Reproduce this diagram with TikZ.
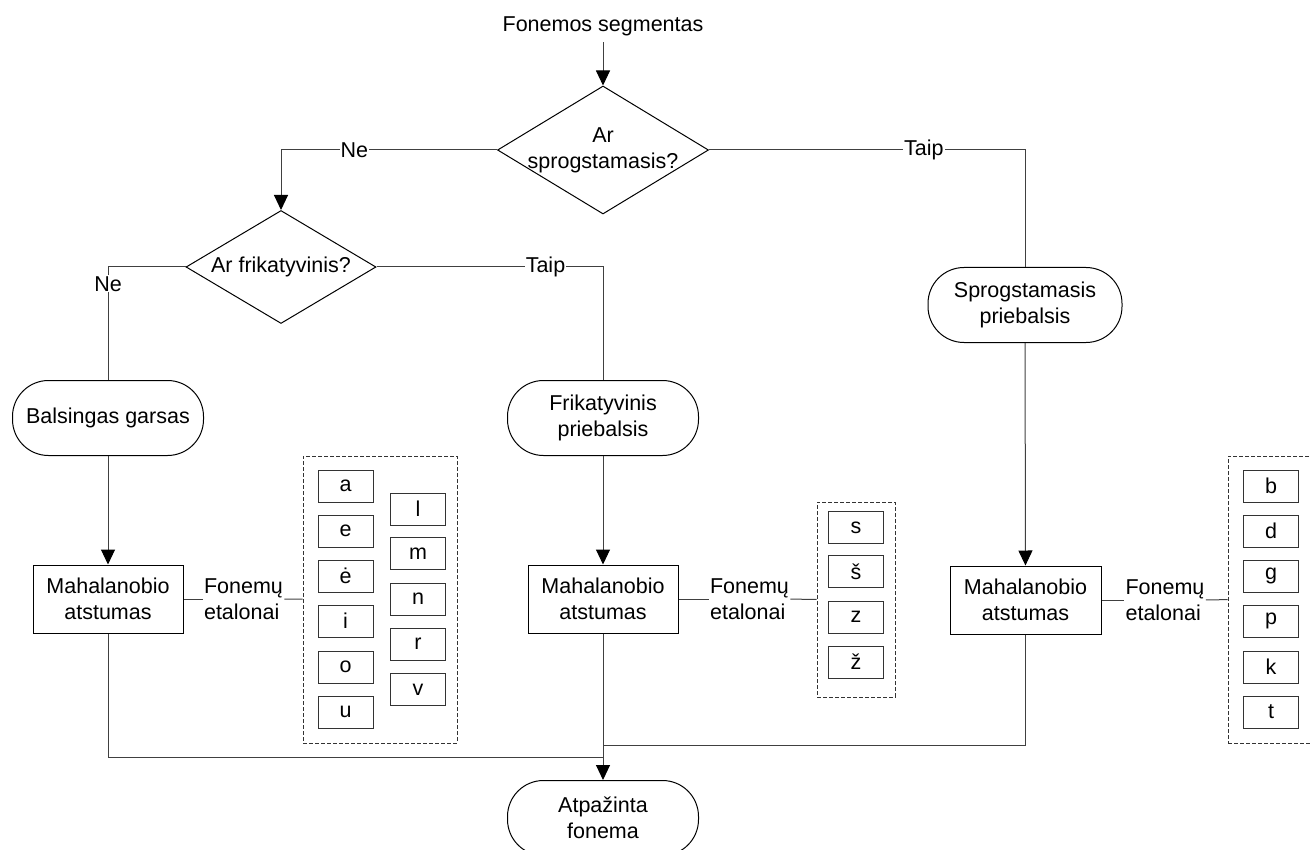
\documentclass[tikz,border=0pt]{standalone}
\usepackage{fontspec}
\setmainfont{Liberation Sans}
\usetikzlibrary{shapes.geometric,arrows.meta}
\begin{document}
\begin{tikzpicture}[x=1pt,y=-1pt,
  font=\fontsize{21.5pt}{26pt}\selectfont,
  line width=1pt,
  conn/.style={draw=black!75, line width=1pt},
  arr/.style={conn, -{Triangle[length=15pt,width=14pt,color=black,fill=black]}},
  decision/.style={diamond, draw, inner sep=0pt},
  term/.style={rectangle, rounded corners=36pt, draw, minimum width=191pt,
    minimum height=75pt, align=center, inner sep=0pt},
  proc/.style={rectangle, draw, minimum width=150pt, minimum height=68pt,
    align=center, inner sep=0pt},
  phon/.style={rectangle, draw=black!80, minimum width=55pt, minimum height=32pt,
    inner sep=0pt},
  group/.style={rectangle, draw=black!80, dash pattern=on 4pt off 2pt, inner sep=0pt},
  lbl/.style={fill=white, inner sep=1pt},
  refs/.style={align=left, inner sep=1pt}
]
\useasboundingbox (0,0) rectangle (1311,850);
\clip (0,0) rectangle (1311,850);

% input and decisions
\node[inner sep=6pt] (src) at (603,26) {Fonemos segmentas};
\node[decision, minimum width=211pt, minimum height=128pt] (q1) at (603,150) {};
\node[align=center] (q1t) at (603,150) {Ar\\sprogstamasis?};
\node[decision, minimum width=190pt, minimum height=113pt] (q2) at (281,267) {};
\node (q2t) at (281,267) {Ar frikatyvinis?};

% sound classes
\node[term] (b1) at (108,418) {Balsingas garsas};
\node[term] (b2) at (603,418) {Frikatyvinis\\priebalsis};
\node[term, minimum width=194pt] (s3) at (1025,305) {Sprogstamasis\\priebalsis};

% distance blocks
\node[proc] (m1) at (108,599) {Mahalanobio\\atstumas};
\node[proc] (m2) at (603,599) {Mahalanobio\\atstumas};
\node[proc, minimum width=151pt] (m3) at (1025.5,600) {Mahalanobio\\atstumas};

% reference labels
\node[refs] (f1) at (243.5,599) {Fonemų\\etalonai};
\node[refs] (f2) at (749.5,599) {Fonemų\\etalonai};
\node[refs] (f3) at (1165,600) {Fonemų\\etalonai};

% phoneme groups
\node[group, minimum width=154pt, minimum height=287pt] (g1) at (380,599.5) {};
\node[group, minimum width=78pt, minimum height=195pt] (g2) at (856,599.5) {};
\node[group, minimum width=86pt, minimum height=287pt] (g3) at (1271,599.5) {};

\node[phon] (pa) at (345.5,486) {a};
\node[phon] (pe) at (345.5,531) {e};
\node[phon] (pee) at (345.5,576) {ė};
\node[phon] (pi) at (345.5,621) {i};
\node[phon] (po) at (345.5,667) {o};
\node[phon] (pu) at (345.5,712) {u};
\node[phon] (pl) at (418,509) {l};
\node[phon] (pm) at (418,553.5) {m};
\node[phon] (pn) at (418,599) {n};
\node[phon] (pr) at (418,644) {r};
\node[phon] (pv) at (418,689.5) {v};

\node[phon] (ps) at (856,527.5) {s};
\node[phon] (psh) at (856,571.5) {š};
\node[phon] (pz) at (856,617) {z};
\node[phon] (pzh) at (856,662) {ž};

\node[phon] (pb) at (1271,486) {b};
\node[phon] (pd) at (1271,531) {d};
\node[phon] (pg) at (1271,576) {g};
\node[phon] (pp) at (1271,621) {p};
\node[phon] (pk) at (1271,667) {k};
\node[phon] (pt) at (1271,712) {t};

% result
\node[term] (res) at (603,818) {Atpažinta\\fonema};

\coordinate (j1) at (603,757);
\coordinate (j2) at (603,745);

% connectors
\draw[arr] (src) -- (q1);
\draw[arr] (q1.west) -| node[lbl, pos=0.33] (ne1) {Ne} (q2.north);
\draw[conn] (q1.east) -| node[lbl, pos=0.34] (ta1) {Taip} (s3.north);
\draw[conn] (q2.west) -| node[lbl, pos=0.575] (ne2) {Ne} (b1.north);
\draw[conn] (q2.east) -| node[lbl, pos=0.373] (ta2) {Taip} (b2.north);

\draw[arr] (b1) -- (m1);
\draw[arr] (b2) -- (m2);
\draw[arr] (s3) -- (m3);

\draw[conn] (m1) -- (f1);
\draw[conn] (f1) -- (g1);
\draw[conn] (m2) -- (f2);
\draw[conn] (f2) -- (g2);
\draw[conn] (m3) -- (f3);
\draw[conn] (f3) -- (g3);

\draw[conn] (m1.south) |- (j1);
\draw[conn] (m3.south) |- (j2);
\draw[arr] (m2) -- (res);
\end{tikzpicture}
\end{document}
